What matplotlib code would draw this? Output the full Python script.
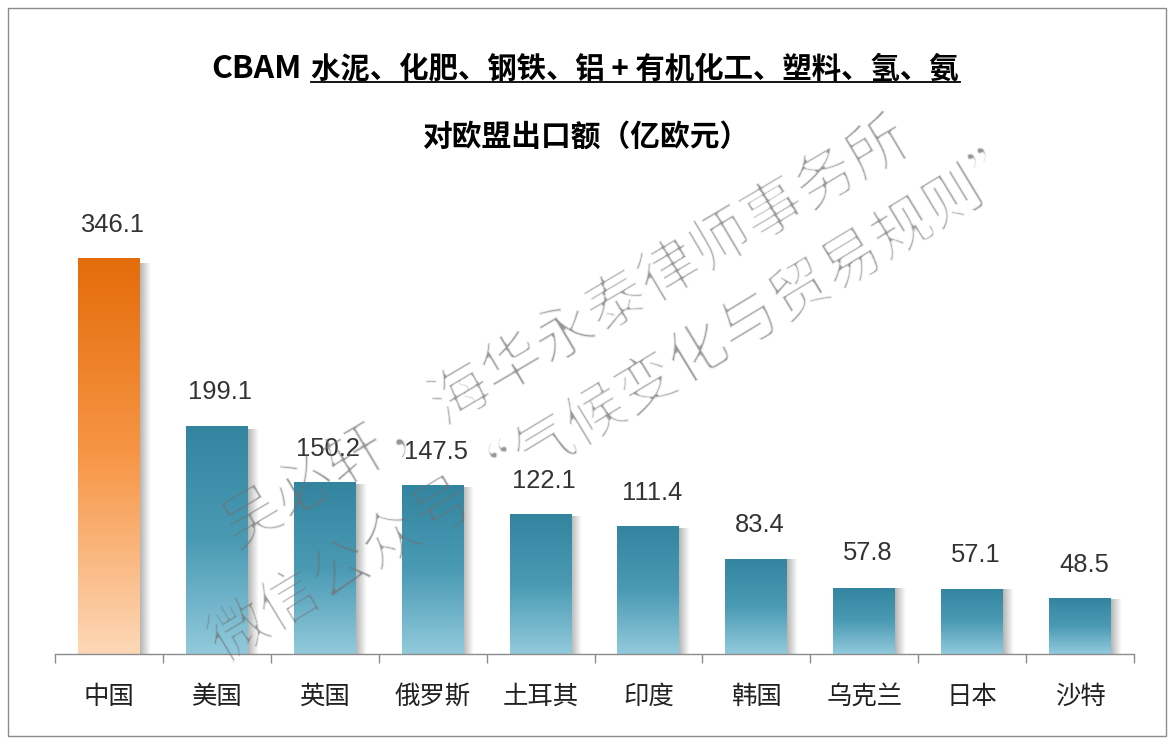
import numpy as np
import matplotlib
matplotlib.use('Agg')
import matplotlib.pyplot as plt
from matplotlib.colors import LinearSegmentedColormap
from matplotlib.lines import Line2D
from matplotlib.patches import Rectangle

plt.rcParams['font.family'] = ['Noto Sans CJK SC', 'DejaVu Sans']

countries = ['中国', '美国', '英国', '俄罗斯', '土耳其', '印度', '韩国', '乌克兰', '日本', '沙特']
values = [346.1, 199.1, 150.2, 147.5, 122.1, 111.4, 83.4, 57.8, 57.1, 48.5]
value_labels = ['346.1', '199.1', '150.2', '147.5', '122.1', '111.4', '83.4', '57.8', '57.1', '48.5']
label_y_px = [225, 392, 449, 452, 481, 493, 525, 553, 555, 565]  # label centres in the picture

W, H = 1172, 741
fig = plt.figure(figsize=(W / 100, H / 100), dpi=100, facecolor='white')


def erode(a):
    out = a.copy()
    out[1:-1, 1:-1] = np.minimum.reduce([a[1:-1, 1:-1], a[:-2, 1:-1], a[2:, 1:-1], a[1:-1, :-2], a[1:-1, 2:]])
    return out


def thin_strokes(img, dpi):
    # the watermark font is a hairline one, so erode the regular weight
    once = erode(img[..., 3])
    twice = erode(once)
    out = img.copy()
    out[..., 3] = 0.7 * twice + 0.3 * once
    return out, 0, 0


# axes runs along the baseline, 1.145 px per unit
ax = fig.add_axes([55 / W, (H - 654) / H, 1079 / W, 454 / H])
ax.patch.set_alpha(0)
ax.set_autoscale_on(False)

orange = LinearSegmentedColormap.from_list('o', ['#E46C0A', '#F79646', '#FDD8B8'])
blue = LinearSegmentedColormap.from_list('b', ['#33859F', '#4A9AB4', '#92CADC'])
bar_w = 62 / 108
shadow_w = 11 / 108

for i, v in enumerate(values):
    # soft shadow on the right, faint on the left
    sh = np.zeros((1, 32, 4))
    sh[..., 3] = np.concatenate([np.linspace(0, 0.1, 8), np.full(14, 0.1), np.linspace(0.6, 0, 10)])
    ax.imshow(sh, extent=[i - bar_w / 2 - 0.03, i + bar_w / 2 + shadow_w, 0, v * 0.985],
              aspect='auto', zorder=1, interpolation='bilinear')
    ax.bar(i, v, width=bar_w, color='none', linewidth=0, zorder=3)
    cmap = orange if i == 0 else blue
    grad = np.linspace(0, 1, 256).reshape(-1, 1)
    im = ax.imshow(grad, extent=[i - bar_w / 2, i + bar_w / 2, 0, v], cmap=cmap,
                   aspect='auto', zorder=2, origin='upper')
    im.set_clip_path(Rectangle((i - bar_w / 2, 0), bar_w, v, transform=ax.transData))

ax.set_xlim(-0.5, 9.5)
ax.set_ylim(0, 454 / 1.145)

for s in ['top', 'left', 'right']:
    ax.spines[s].set_visible(False)
ax.spines['bottom'].set_color('#8c8c8c')
ax.spines['bottom'].set_linewidth(1.0)
ax.set_yticks([])
ax.set_xticks(np.arange(-0.5, 10, 1))
ax.set_xticklabels([])
ax.tick_params(axis='x', which='major', length=6.5, width=1, color='#8c8c8c', direction='out')
ax.set_xticks(np.arange(10), minor=True)
ax.set_xticklabels(countries, minor=True, fontsize=18.3, color='#222222')
ax.tick_params(axis='x', which='minor', length=0, pad=21.5)

# value labels
for i, t in enumerate(value_labels):
    fig.text((55 + 108 * (i + 0.5) + 3) / W, (H - label_y_px[i]) / H, t, ha='center', va='center',
             fontsize=18.4, color='#333333', family='Liberation Sans', zorder=6)

# title
fig.text(211 / W, (H - 69) / H, 'CBAM', fontsize=23, fontweight='bold', ha='left', va='center', color='black')
fig.text(311 / W, (H - 69) / H, '水泥、化肥、钢铁、铝 + 有机化工、塑料、氢、氨', fontsize=21.2, fontweight='bold',
         ha='left', va='center', color='black')
fig.add_artist(Line2D([311 / W, 960 / W], [(H - 82) / H] * 2, color='black', lw=1.3))
fig.text(586 / W, (H - 137) / H, '对欧盟出口额（亿欧元）', fontsize=21.4, fontweight='bold', ha='center', va='center',
         color='black')

# watermark
wm1 = fig.text(565 / W, (H - 333) / H, '吴必轩，海华永泰律师事务所', fontsize=43.7, rotation=30.6, rotation_mode='anchor',
               ha='center', va='center', color='#707070', alpha=0.75, zorder=7)
wm2 = fig.text(623 / W, (H - 401) / H, '微信公众号“气候变化与贸易规则”', fontsize=43, rotation=31.2, rotation_mode='anchor',
               ha='center', va='center', color='#707070', alpha=0.75, zorder=7)
wm1.set_agg_filter(thin_strokes)
wm2.set_agg_filter(thin_strokes)

# outer frame
fig.add_artist(Rectangle((8 / W, (H - 736) / H), 1158 / W, 728 / H, transform=fig.transFigure, fill=False,
                         edgecolor='#8c8c8c', lw=1))

fig.savefig('out.png', dpi=100)
